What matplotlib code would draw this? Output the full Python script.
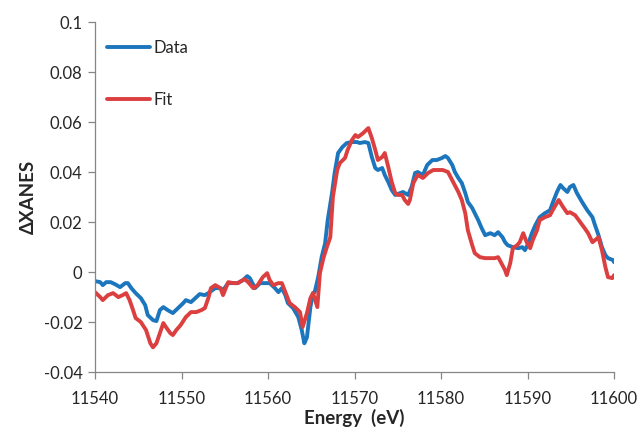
#!/usr/bin/env python
import matplotlib
matplotlib.use("Agg")
import matplotlib.pyplot as plt
from matplotlib.ticker import FuncFormatter

# Data
data_energy = [11540.0, 11540.6, 11540.9, 11541.3, 11541.8, 11542.3, 11542.9, 11543.5,
               11543.8, 11544.2, 11544.7, 11545.3, 11545.8, 11546.1, 11546.7, 11547.1,
               11547.5, 11547.9, 11548.4, 11549.0, 11549.6, 11550.2, 11550.5, 11551.1,
               11551.6, 11552.1, 11552.7, 11553.1, 11553.9, 11554.5, 11554.8, 11555.4,
               11556.0, 11556.5, 11557.1, 11557.6, 11557.9, 11558.5, 11559.1, 11559.7,
               11560.2, 11560.8, 11561.2, 11561.6, 11562.0, 11562.3, 11562.9, 11563.5,
               11563.9, 11564.2, 11564.5, 11564.9, 11565.2, 11565.4, 11565.8, 11566.2,
               11566.6, 11566.9, 11567.4, 11567.7, 11568.1, 11568.6, 11569.1, 11569.7,
               11570.3, 11570.6, 11571.2, 11571.6, 11572.0, 11572.4, 11572.7, 11573.2,
               11573.5, 11573.9, 11574.3, 11574.7, 11575.3, 11575.6, 11576.2, 11576.6,
               11577.0, 11577.3, 11577.9, 11578.4, 11579.0, 11579.5, 11580.1, 11580.5,
               11580.8, 11581.3, 11581.6, 11582.0, 11582.4, 11582.8, 11583.1, 11583.6,
               11583.9, 11584.3, 11584.7, 11585.1, 11585.7, 11586.2, 11586.6, 11587.1,
               11587.4, 11587.7, 11588.3, 11588.9, 11589.4, 11589.7, 11590.1, 11590.5,
               11590.9, 11591.4, 11592.0, 11592.6, 11592.9, 11593.4, 11593.8, 11594.1,
               11594.6, 11594.9, 11595.3, 11595.7, 11596.3, 11596.9, 11597.5, 11597.8,
               11598.2, 11598.6, 11599.0, 11599.3, 11599.9, 11600.0]
data_values = [-0.0036, -0.0040, -0.0052, -0.0040, -0.0040, -0.0048, -0.0060, -0.0044,
               -0.0044, -0.0064, -0.0084, -0.0104, -0.0132, -0.0172, -0.0192, -0.0196,
               -0.0152, -0.0140, -0.0152, -0.0164, -0.0144, -0.0124, -0.0112, -0.0120,
               -0.0104, -0.0088, -0.0092, -0.0084, -0.0064, -0.0064, -0.0072, -0.0044,
               -0.0044, -0.0044, -0.0032, -0.0016, -0.0024, -0.0064, -0.0044, -0.0044,
               -0.0044, -0.0064, -0.0080, -0.0064, -0.0092, -0.0124, -0.0144, -0.0180,
               -0.0232, -0.0285, -0.0261, -0.0140, -0.0084, -0.0080, -0.0020, 0.0060,
               0.0116, 0.0208, 0.0317, 0.0397, 0.0477, 0.0501, 0.0517, 0.0521,
               0.0521, 0.0517, 0.0521, 0.0517, 0.0461, 0.0417, 0.0409, 0.0417,
               0.0389, 0.0361, 0.0329, 0.0309, 0.0317, 0.0321, 0.0309, 0.0341,
               0.0397, 0.0401, 0.0389, 0.0429, 0.0449, 0.0449, 0.0457, 0.0465,
               0.0457, 0.0429, 0.0401, 0.0377, 0.0357, 0.0317, 0.0281, 0.0257,
               0.0236, 0.0208, 0.0176, 0.0148, 0.0156, 0.0148, 0.0160, 0.0140,
               0.0120, 0.0108, 0.0100, 0.0096, 0.0100, 0.0088, 0.0116, 0.0156,
               0.0188, 0.0220, 0.0236, 0.0248, 0.0277, 0.0321, 0.0349, 0.0337,
               0.0321, 0.0341, 0.0349, 0.0317, 0.0281, 0.0248, 0.0220, 0.0188,
               0.0148, 0.0100, 0.0068, 0.0056, 0.0048, 0.0040]

fit_energy = [11540.0, 11540.6, 11540.9, 11541.5, 11542.1, 11542.7, 11543.2, 11543.6,
              11544.0, 11544.4, 11544.7, 11545.3, 11545.9, 11546.4, 11546.7, 11547.1,
              11547.5, 11547.9, 11548.2, 11548.7, 11549.0, 11549.4, 11549.9, 11550.5,
              11551.1, 11551.7, 11552.3, 11552.7, 11553.1, 11553.4, 11553.9, 11554.5,
              11554.8, 11555.4, 11556.0, 11556.5, 11557.3, 11557.7, 11558.3, 11558.8,
              11559.4, 11559.9, 11560.2, 11560.6, 11561.2, 11561.6, 11562.0, 11562.5,
              11563.1, 11563.7, 11564.0, 11564.5, 11564.9, 11565.2, 11565.7, 11566.0,
              11566.4, 11566.8, 11567.2, 11567.5, 11568.0, 11568.3, 11568.9, 11569.2,
              11569.7, 11570.1, 11570.4, 11571.0, 11571.6, 11572.0, 11572.4, 11572.7,
              11573.2, 11573.5, 11573.9, 11574.3, 11574.7, 11575.0, 11575.5, 11575.8,
              11576.2, 11576.4, 11576.8, 11577.3, 11577.9, 11578.5, 11579.1, 11579.7,
              11580.2, 11580.8, 11581.4, 11582.0, 11582.4, 11582.8, 11583.1, 11583.6,
              11583.9, 11584.5, 11585.1, 11585.7, 11586.2, 11586.6, 11587.1, 11587.4,
              11587.6, 11588.0, 11588.3, 11588.8, 11589.1, 11589.5, 11589.9, 11590.3,
              11590.6, 11591.1, 11591.4, 11592.0, 11592.6, 11592.9, 11593.4, 11593.6,
              11594.1, 11594.6, 11594.9, 11595.5, 11596.1, 11596.6, 11597.0, 11597.5,
              11597.8, 11598.2, 11598.6, 11599.0, 11599.3, 11599.8, 11600.0]
fit_values = [-0.0080, -0.0100, -0.0112, -0.0092, -0.0084, -0.0100, -0.0092, -0.0084,
              -0.0112, -0.0152, -0.0184, -0.0200, -0.0232, -0.0285, -0.0301, -0.0285,
              -0.0244, -0.0204, -0.0220, -0.0244, -0.0252, -0.0232, -0.0212, -0.0180,
              -0.0160, -0.0160, -0.0152, -0.0144, -0.0104, -0.0064, -0.0052, -0.0064,
              -0.0092, -0.0040, -0.0044, -0.0044, -0.0028, -0.0040, -0.0064, -0.0052,
              -0.0020, -0.0004, -0.0032, -0.0052, -0.0044, -0.0044, -0.0080, -0.0124,
              -0.0140, -0.0160, -0.0220, -0.0164, -0.0104, -0.0084, -0.0140, -0.0004,
              0.0056, 0.0100, 0.0140, 0.0301, 0.0409, 0.0437, 0.0457, 0.0489,
              0.0529, 0.0549, 0.0541, 0.0557, 0.0577, 0.0537, 0.0489, 0.0449,
              0.0461, 0.0477, 0.0421, 0.0361, 0.0317, 0.0309, 0.0309, 0.0289,
              0.0273, 0.0289, 0.0357, 0.0389, 0.0377, 0.0397, 0.0409, 0.0409,
              0.0409, 0.0401, 0.0361, 0.0321, 0.0289, 0.0236, 0.0168, 0.0108,
              0.0076, 0.0060, 0.0056, 0.0056, 0.0056, 0.0060, 0.0028, 0.0008,
              -0.0012, 0.0036, 0.0096, 0.0108, 0.0120, 0.0156, 0.0120, 0.0096,
              0.0128, 0.0168, 0.0208, 0.0220, 0.0228, 0.0248, 0.0277, 0.0289,
              0.0261, 0.0236, 0.0240, 0.0228, 0.0200, 0.0176, 0.0156, 0.0120,
              0.0128, 0.0140, 0.0088, 0.0020, -0.0020, -0.0024, -0.0012]

x_ticks = [11540, 11550, 11560, 11570, 11580, 11590, 11600]
y_ticks = [-0.04, -0.02, 0, 0.02, 0.04, 0.06, 0.08, 0.1]

BLUE = "#1b76bd"
RED = "#dc3f3f"
AXIS_GRAY = "#868686"
TEXT = "#262626"

plt.rcParams['font.family'] = ['Lato', 'DejaVu Sans']

fig = plt.figure(figsize=(6.44, 4.40), dpi=100)
ax = fig.add_axes([0.1475, 0.1545, 0.806, 0.7945])

ax.plot(data_energy, data_values, color=BLUE, linewidth=2.8, label="Data",
        solid_joinstyle='round', solid_capstyle='round')
ax.plot(fit_energy, fit_values, color=RED, linewidth=2.8, label="Fit",
        solid_joinstyle='round', solid_capstyle='round')

ax.set_xlim(11540, 11600)
ax.set_ylim(-0.04, 0.1)
ax.set_xticks(x_ticks)
ax.set_yticks(y_ticks)
ax.yaxis.set_major_formatter(FuncFormatter(lambda v, p: "%g" % round(v, 4) if abs(v) > 1e-9 else "0"))

for side in ("top", "right"):
    ax.spines[side].set_visible(False)
for side in ("left", "bottom"):
    ax.spines[side].set_color(AXIS_GRAY)
    ax.spines[side].set_linewidth(0.9)
ax.tick_params(axis='both', direction='out', length=5, width=0.9,
               color=AXIS_GRAY, labelsize=12, labelcolor=TEXT)
ax.tick_params(axis='y', pad=4)
ax.tick_params(axis='x', pad=9)

ax.set_xlabel("Energy  (eV)", fontsize=13.5, fontweight='bold', color=TEXT, labelpad=1)
ax.set_ylabel("\u0394XANES", fontsize=13.5, fontweight='bold', color=TEXT, labelpad=5)

leg = ax.legend(loc='upper left', bbox_to_anchor=(0.0, 0.984), frameon=False,
                fontsize=12, handlelength=2.6, handletextpad=0.2, labelspacing=2.15,
                borderaxespad=0.3)
for t in leg.get_texts():
    t.set_color(TEXT)

fig.savefig("out.png", dpi=100)
plt.close(fig)
